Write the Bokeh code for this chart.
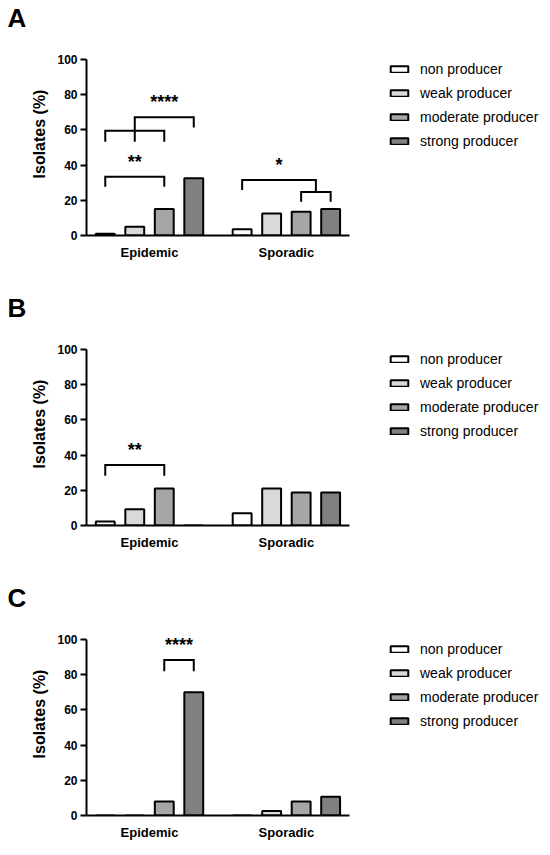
from bokeh.plotting import figure
from bokeh.models import Range1d, Legend, LegendItem, FixedTicker, ColumnDataSource, Title
from bokeh.layouts import column
from bokeh.embed import file_html
from bokeh.resources import INLINE
from bokeh.core.properties import value

# ---------------- data ----------------
groups = ["Epidemic", "Sporadic"]
series = ["non producer", "weak producer", "moderate producer", "strong producer"]
colors = ["#ffffff", "#d9d9d9", "#a6a6a6", "#808080"]
panel_letters = ["A", "B", "C"]
y_ticks = [0, 20, 40, 60, 80, 100]

# values per series: [Epidemic, Sporadic]  (% isolates)
A_non = [1.0, 3.5]
A_weak = [5.0, 12.5]
A_moderate = [15.0, 13.5]
A_strong = [32.5, 15.0]

B_non = [2.3, 7.0]
B_weak = [9.3, 21.0]
B_moderate = [21.0, 18.7]
B_strong = [0.0, 18.7]

C_non = [0.0, 0.0]
C_weak = [0.0, 2.6]
C_moderate = [7.9, 7.9]
C_strong = [70.0, 10.6]

# significance brackets: (group, left bar, right bar, top, left foot, right foot, stem bar or None)
A_brackets = [
    (0, 0, 2, 33.4, 27.7, 27.7, None),
    (0, 0, 2, 59.5, 53.3, 53.3, 1),
    (0, 1, 3, 67.2, 59.5, 61.4, None),
    (1, 2, 3, 24.7, 19.2, 19.2, None),
    (1, 0, 2.5, 31.5, 25.8, 24.7, None),
]
A_stars = [("**", 0, 1, 33.4), ("****", 0, 2, 67.2), ("*", 1, 1.25, 31.5)]
B_brackets = [(0, 0, 2, 34.4, 28.2, 28.2, None)]
B_stars = [("**", 0, 1, 34.4)]
C_brackets = [(0, 2, 3, 88.3, 82.0, 82.0, None)]
C_stars = [("****", 0, 2.5, 88.3)]

# ---------------- layout constants ----------------
GROUP_STEP = 4.64      # distance between group centres, in bar spacings
BAR_W = 0.64
FONT = "Liberation Sans"
PX_PER_X = 29.5
PX_PER_Y = 1.76
FRAME_LEFT = 86
FRAME_W = 462
FRAME_TOP = 32
FRAME_H = 203
STAR_GAP = 8.5
X0 = -2.136
X_AXIS_END = GROUP_STEP + 2.136


def xpos(g, b):
    return g * GROUP_STEP + (b - 1.5)


def make_panel(letter, vals, brackets, stars, height):
    bottom = height - FRAME_TOP - FRAME_H
    p = figure(width=FRAME_LEFT + FRAME_W + 2, height=height,
               x_range=Range1d(X0, X0 + FRAME_W / PX_PER_X),
               y_range=Range1d(0, FRAME_H / PX_PER_Y),
               output_backend="svg", toolbar_location=None,
               min_border_left=FRAME_LEFT, min_border_right=2, min_border_top=FRAME_TOP,
               min_border_bottom=bottom)
    p.outline_line_color = None
    p.grid.visible = False
    p.background_fill_color = "white"

    renderers = []
    for i, (name, col) in enumerate(zip(series, colors)):
        src = ColumnDataSource(dict(x=[xpos(g, i) for g in range(len(groups))], top=vals[i]))
        r = p.vbar(x="x", top="top", width=BAR_W, bottom=0, source=src,
                   fill_color=col, line_color="black", line_width=2)
        renderers.append(r)

    # brackets
    xs, ys = [], []
    for (g, l, r, top, lf, rf, stem) in brackets:
        xl, xr = xpos(g, l), xpos(g, r)
        xs.append([xl, xl, xr, xr])
        ys.append([lf, top, top, rf])
        if stem is not None:
            xm = xpos(g, stem)
            xs.append([xm, xm])
            ys.append([top, lf])
    p.multi_line(xs=xs, ys=ys, line_color="black", line_width=2, line_cap="butt", line_join="miter")

    ssrc = ColumnDataSource(dict(x=[xpos(g, b) for (_, g, b, _) in stars],
                                 y=[y + STAR_GAP for (_, _, _, y) in stars],
                                 t=[s for (s, _, _, _) in stars]))
    p.text(x="x", y="y", text="t", source=ssrc, text_font=value(FONT), text_font_size="18px",
           text_font_style="bold", text_align="center", text_baseline="alphabetic",
           text_color="black")

    # axes
    p.xaxis.bounds = (X0, X_AXIS_END)
    p.yaxis.bounds = (0, 100)
    p.xaxis.ticker = FixedTicker(ticks=[xpos(g, 1.5) for g in range(len(groups))])
    p.xaxis.major_label_overrides = {xpos(g, 1.5): groups[g] for g in range(len(groups))}
    p.xaxis.major_tick_line_color = None
    p.xaxis.minor_tick_line_color = None
    p.xaxis.major_tick_out = 0
    p.xaxis.major_label_standoff = 9
    p.yaxis.ticker = FixedTicker(ticks=y_ticks)
    p.yaxis.minor_tick_line_color = None
    p.yaxis.major_tick_out = 6
    p.yaxis.major_tick_in = 0
    p.yaxis.major_tick_line_width = 2
    p.yaxis.major_label_standoff = 3
    p.yaxis.axis_label = "Isolates (%)"
    p.yaxis.axis_label_standoff = 6
    for ax in (p.xaxis, p.yaxis):
        ax.axis_line_width = 2
        ax.axis_line_color = "black"
        ax.major_label_text_font = FONT
        ax.major_label_text_font_style = "bold"
        ax.major_label_text_color = "black"
        ax.axis_label_text_font = FONT
        ax.axis_label_text_font_style = "bold"
        ax.axis_label_text_color = "black"
    p.xaxis.major_label_text_font_size = "13px"
    p.yaxis.major_label_text_font_size = "12px"
    p.yaxis.axis_label_text_font_size = "16px"

    legend = Legend(items=[LegendItem(label=s, renderers=[r]) for s, r in zip(series, renderers)],
                    location=(302, 86), orientation="vertical",
                    glyph_width=22, glyph_height=8, label_height=8, spacing=8,
                    label_standoff=10, padding=0, margin=0,
                    border_line_color=None, background_fill_alpha=0,
                    label_text_font=FONT, label_text_font_size="14px", label_text_color="black")
    p.add_layout(legend, "center")

    p.add_layout(Title(text=letter, align="left", offset=-FRAME_LEFT + 7, standoff=0,
                       text_font=FONT, text_font_size="26px", text_font_style="bold",
                       text_color="black"), "above")
    return p


pa = make_panel("A", [A_non, A_weak, A_moderate, A_strong], A_brackets, A_stars, 290)
pb = make_panel("B", [B_non, B_weak, B_moderate, B_strong], B_brackets, B_stars, 290)
pc = make_panel("C", [C_non, C_weak, C_moderate, C_strong], C_brackets, C_stars, 270)

layout = column(pa, pb, pc, spacing=0)
open("out.html", "w").write(file_html(layout, INLINE))
